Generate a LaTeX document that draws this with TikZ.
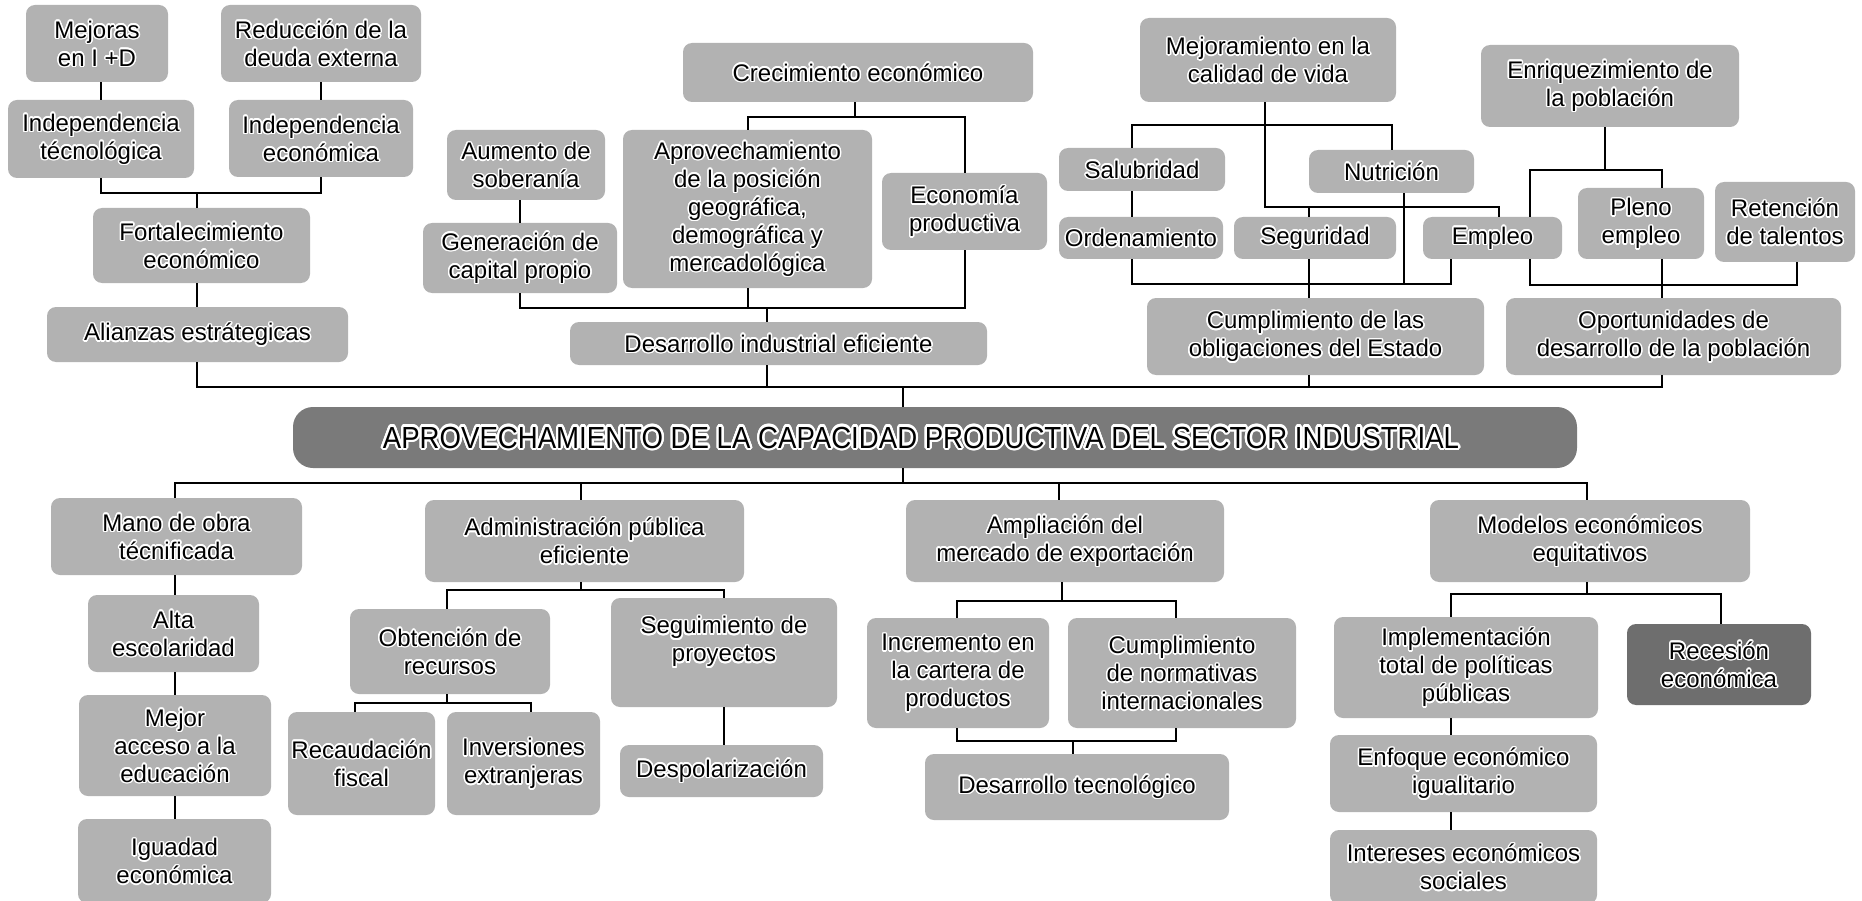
\documentclass[tikz,border=0pt]{standalone}
\usepackage{fontspec}
\setmainfont{Liberation Sans}
\usepackage{graphicx}
\definecolor{boxg}{RGB}{178,178,178}
\definecolor{darkg}{RGB}{110,110,110}
\definecolor{titleg}{RGB}{122,122,122}
\newsavebox\halobox
\newlength\halor
\setlength\halor{1.5pt}
\newcommand\hcopy[2]{\rlap{\hspace*{#1\halor}\raisebox{#2\halor}{\copy\halobox}}}
\newcommand\ct[1]{\setbox\halobox\hbox{#1}\mbox{{\color{white}%
  \hcopy{1}{0}\hcopy{0.92}{0.38}\hcopy{0.71}{0.71}\hcopy{0.38}{0.92}%
  \hcopy{0}{1}\hcopy{-0.38}{0.92}\hcopy{-0.71}{0.71}\hcopy{-0.92}{0.38}%
  \hcopy{-1}{0}\hcopy{-0.92}{-0.38}\hcopy{-0.71}{-0.71}\hcopy{-0.38}{-0.92}%
  \hcopy{0}{-1}\hcopy{0.38}{-0.92}\hcopy{0.71}{-0.71}\hcopy{0.92}{-0.38}}%
  \box\halobox}}
\begin{document}
\lineskiplimit=-30pt
\begin{tikzpicture}[x=1pt,y=-1pt,
  bx/.style={fill=boxg, rounded corners=9pt, inner sep=0pt, align=center,
    font=\fontsize{24}{28}\selectfont},
  sz/.style 2 args={minimum width=#1, minimum height=#2},
  ln/.style={line width=2pt, black}]
\useasboundingbox (0,0) rectangle (1862,901);
\fill[white] (0,0) rectangle (1862,901);

% ---------- upper nodes ----------
\node[bx, sz={142}{77}] (mej) at (97,43.5) {\ct{Mejoras}\\\ct{en I +D}};
\node[bx, sz={200}{77}] (red) at (321,43.5) {\ct{Reducción de la}\\\ct{deuda externa}};
\node[bx, sz={186}{78}] (itec) at (101,139) {\ct{Independencia}\\\ct{técnológica}};
\node[bx, sz={184}{77}] (iecon) at (321,138.5) {\ct{Independencia}\\\ct{económica}};
\node[bx, sz={217}{75}] (fort) at (201.5,245.5) {\ct{Fortalecimiento}\\\ct{económico}};
\node[bx, sz={301}{55}] (ali) at (197.5,334.5) {\ct{Alianzas estrátegicas}};
\node[bx, sz={158}{70}] (aum) at (526,165) {\ct{Aumento de}\\\ct{soberanía}};
\node[bx, sz={194}{70}] (gen) at (520,258) {\ct{Generación de}\\\ct{capital propio}};
\node[bx, sz={350}{59}] (crec) at (858,72.5) {\ct{Crecimiento económico}};
\node[bx, sz={249}{158}] (apro) at (747.5,209) {\ct{Aprovechamiento}\\\ct{de la posición}\\\ct{geográfica,}\\\ct{demográfica y}\\\ct{mercadológica}};
\node[bx, sz={165}{77}] (eco) at (964.5,211.5) {\ct{Economía}\\\ct{productiva}};
\node[bx, sz={417}{43}] (dind) at (778.5,343.5) {\ct{Desarrollo industrial eficiente}};
\node[bx, sz={256}{84}] (mejv) at (1268,60) {\ct{Mejoramiento en la}\\\ct{calidad de vida}};
\node[bx, sz={166}{43}] (sal) at (1142,169.5) {\ct{Salubridad}};
\node[bx, sz={165}{43}] (nut) at (1391.5,171.5) {\ct{Nutrición}};
\node[bx, sz={164}{42}] (ord) at (1141,238) {\ct{Ordenamiento}};
\node[bx, sz={162}{42}] (seg) at (1315,238) {\ct{Seguridad}};
\node[bx, sz={139}{42}] (emp) at (1492.5,238) {\ct{Empleo}};
\node[bx, sz={337}{77}] (cumo) at (1315.5,336.5) {\ct{Cumplimiento de las}\\\ct{obligaciones del Estado}};
\node[bx, sz={258}{82}] (enr) at (1610,86) {\ct{Enriquezimiento de}\\\ct{la población}};
\node[bx, sz={126}{71}] (ple) at (1641,223.5) {\ct{Pleno}\\\ct{empleo}};
\node[bx, sz={140}{80}] (ret) at (1785,222) {\ct{Retención}\\\ct{de talentos}};
\node[bx, sz={335}{77}] (opo) at (1673.5,336.5) {\ct{Oportunidades de}\\\ct{desarrollo de la población}};

% ---------- title ----------
\node[fill=titleg, rounded corners=20pt, inner sep=0pt, sz={1284}{61}] (title) at (935,437.5)
  {\setlength\halor{2.6pt}\fontsize{30.5}{34}\selectfont\scalebox{0.905}[1]{\ct{APROVECHAMIENTO DE LA CAPACIDAD PRODUCTIVA DEL SECTOR INDUSTRIAL}}\hspace*{28pt}};

% ---------- lower nodes ----------
\node[bx, sz={251}{77}] (mano) at (176.5,536.5) {\ct{Mano de obra}\\\ct{técnificada}};
\node[bx, sz={171}{77}] (alta) at (173.5,633.5) {\ct{Alta}\\\ct{escolaridad}};
\node[bx, sz={192}{101}] (macc) at (175,745.5) {\ct{Mejor}\\\ct{acceso a la}\\\ct{educación}};
\node[bx, sz={193}{84}] (igu) at (174.5,861) {\ct{Iguadad}\\\ct{económica}};
\node[bx, sz={319}{82}] (adm) at (584.5,541) {\ct{Administración pública}\\\ct{eficiente}};
\node[bx, sz={200}{85}] (obt) at (450,651.5) {\ct{Obtención de}\\\ct{recursos}};
\node[bx, sz={226}{109}] (segp) at (724,652.5) {\ct{Seguimiento de}\\\ct{proyectos}\\\mbox{}};
\node[bx, sz={147}{103}] (rec) at (361.5,763.5) {\ct{Recaudación}\\\ct{fiscal}};
\node[bx, sz={153}{103}] (inv) at (523.5,763.5) {\ct{Inversiones}\\\ct{extranjeras}};
\node[bx, sz={203}{52}] (desp) at (721.5,771) {\ct{Despolarización}};
\node[bx, sz={318}{82}] (amp) at (1065,541) {\ct{Ampliación del}\\\ct{mercado de exportación}};
\node[bx, sz={182}{110}] (inc) at (958,673) {\ct{Incremento en}\\\ct{la cartera de}\\\ct{productos}};
\node[bx, sz={228}{110}] (cnor) at (1182,673) {\ct{Cumplimiento}\\\ct{de normativas}\\\ct{internacionales}};
\node[bx, sz={304}{66}] (dtec) at (1077,787) {\ct{Desarrollo tecnológico}};
\node[bx, sz={320}{82}] (mod) at (1590,541) {\ct{Modelos económicos}\\\ct{equitativos}};
\node[bx, sz={264}{101}] (imp) at (1466,667.5) {\ct{Implementación}\\\ct{total de políticas}\\\ct{públicas}};
\node[bx, fill=darkg, sz={184}{81}] (reces) at (1719,664.5) {\ct{Recesión}\\\ct{económica}};
\node[bx, sz={267}{77}] (enf) at (1463.5,773.5) {\ct{Enfoque económico}\\\ct{igualitario}};
\node[bx, sz={267}{74}] (int) at (1463.5,867) {\ct{Intereses económicos}\\\ct{sociales}};

% ---------- junction coordinates ----------
\coordinate (j1) at (197,193);
\coordinate (hL) at (197,387);
\coordinate (hR) at (1662,387);
\coordinate (j2) at (855,117);
\coordinate (j3) at (767,308);
\coordinate (tc) at (903,387);
\coordinate (tb) at (903,483);
\coordinate (m1) at (1265,125);
\coordinate (m2) at (1265,207);
\coordinate (e1) at (1499,207);
\coordinate (s1) at (1132,125);
\coordinate (sg) at (1309,207);
\coordinate (b1) at (1132,284);
\coordinate (b2) at (1451,284);
\coordinate (nt) at (1404,284);
\coordinate (r0) at (1605,170);
\coordinate (r1) at (1530,170);
\coordinate (r2) at (1662,170);
\coordinate (q1) at (1530,285);
\coordinate (q2) at (1797,285);
\coordinate (lL) at (175,483);
\coordinate (lR) at (1587,483);
\coordinate (ad) at (581,483);
\coordinate (am) at (1059,483);
\coordinate (a1) at (581,590);
\coordinate (a2) at (447,590);
\coordinate (a3) at (724,590);
\coordinate (o1) at (447,703);
\coordinate (o2) at (355,703);
\coordinate (o3) at (531,703);
\coordinate (p1) at (1062,601);
\coordinate (p2) at (957,601);
\coordinate (p3) at (1176,601);
\coordinate (p4) at (957,741);
\coordinate (p5) at (1176,741);
\coordinate (p6) at (1073,741);
\coordinate (d1) at (1587,594);
\coordinate (d2) at (1451,594);
\coordinate (d3) at (1721,594);

% ---------- connectors: upper left ----------
\draw[ln] (mej.south -| itec.center) -- (itec.north);
\draw[ln] (red.south -| iecon.center) -- (iecon.north);
\draw[ln] (itec.south) |- (j1) -| (iecon.south);
\draw[ln] (j1) -- (j1 |- fort.north);
\draw[ln] (fort.south -| j1) -- (ali.north -| j1);
\draw[ln] (ali.south -| hL) -- (hL) -- (hR) -- (opo.south -| hR);

% ---------- connectors: upper middle ----------
\draw[ln] (aum.south -| gen.center) -- (gen.north);
\draw[ln] (crec.south -| j2) -- (j2);
\draw[ln] (apro.north) |- (j2) -| (eco.north);
\draw[ln] (gen.south) |- (j3) -| (eco.south);
\draw[ln] (apro.south) -- (apro.south |- j3);
\draw[ln] (j3) -- (j3 |- dind.north);
\draw[ln] (dind.south -| j3) -- (j3 |- hL);

% ---------- title ----------
\draw[ln] (tc) -- (tc |- title.north);
\draw[ln] (tb |- title.south) -- (tb);

% ---------- connectors: upper right ----------
\draw[ln] (mejv.south -| m1) -- (m2) -- (e1) -- (e1 |- emp.north);
\draw[ln] (s1 |- sal.north) -- (s1) -| (nut.north);
\draw[ln] (sal.south -| s1) -- (ord.north -| s1);
\draw[ln] (sg) -- (sg |- seg.north);
\draw[ln] (seg.south -| sg) -- (sg |- cumo.north);
\draw[ln] (cumo.south -| sg) -- (sg |- hL);
\draw[ln] (ord.south -| b1) -- (b1) -- (b2) -- (b2 |- emp.south);
\draw[ln] (nut.south -| nt) -- (nt);
\draw[ln] (enr.south -| r0) -- (r0);
\draw[ln] (r1 |- emp.north) -- (r1) -- (r2) -- (r2 |- ple.north);
\draw[ln] (emp.south -| q1) -- (q1) -- (q2) -- (q2 |- ret.south);
\draw[ln] (ple.south -| r2) -- (r2 |- opo.north);

% ---------- connectors: lower ----------
\draw[ln] (mano.north -| lL) -- (lL) -- (lR) -- (lR |- mod.north);
\draw[ln] (ad) -- (ad |- adm.north);
\draw[ln] (am) -- (am |- amp.north);
\draw[ln] (mano.south -| lL) -- (alta.north -| lL);
\draw[ln] (alta.south -| lL) -- (macc.north -| lL);
\draw[ln] (macc.south -| lL) -- (igu.north -| lL);
\draw[ln] (adm.south -| a1) -- (a1);
\draw[ln] (a2 |- obt.north) -- (a2) -- (a3) -- (a3 |- segp.north);
\draw[ln] (obt.south -| o1) -- (o1);
\draw[ln] (o2 |- rec.north) -- (o2) -- (o3) -- (o3 |- inv.north);
\draw[ln] (segp.south -| a3) -- (a3 |- desp.north);
\draw[ln] (amp.south -| p1) -- (p1);
\draw[ln] (p2 |- inc.north) -- (p2) -- (p3) -- (p3 |- cnor.north);
\draw[ln] (inc.south -| p4) -- (p4) -- (p5) -- (cnor.south -| p5);
\draw[ln] (p6) -- (p6 |- dtec.north);
\draw[ln] (mod.south -| d1) -- (d1);
\draw[ln] (d2 |- imp.north) -- (d2) -- (d3) -- (d3 |- reces.north);
\draw[ln] (imp.south -| d2) -- (enf.north -| d2);
\draw[ln] (enf.south -| d2) -- (int.north -| d2);
\end{tikzpicture}
\end{document}
